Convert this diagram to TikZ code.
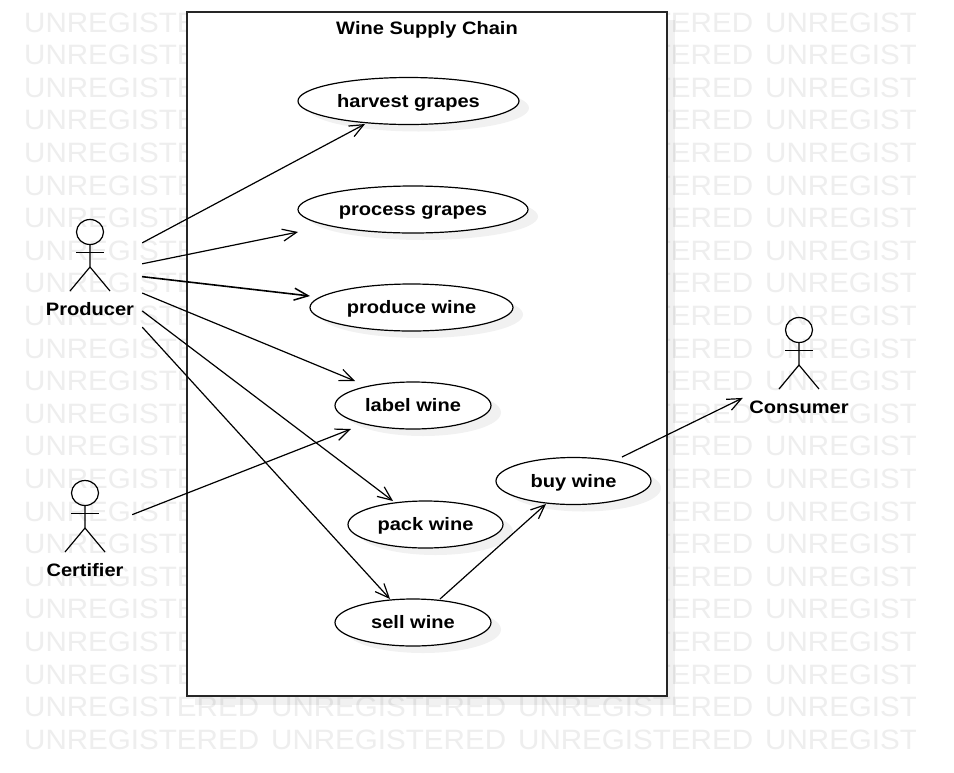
\documentclass[tikz,border=0pt]{standalone}
\usepackage{fontspec}
\setmainfont{Liberation Sans}
\newfontfamily\wmfont[FakeStretch=1.056]{Liberation Sans}
\newfontfamily\lblfont[FakeStretch=1.115]{Liberation Sans}
\usetikzlibrary{shapes.geometric,arrows.meta,calc}
\definecolor{wmgray}{HTML}{EEEEEE}
\tikzset{
  usecase/.style={ellipse,draw=black,fill=white,line width=1.2pt,inner sep=0pt,
    minimum width=#1,minimum height=47pt,text height=13pt,text depth=1pt,
    font=\fontsize{18}{20}\lblfont\bfseries},
  shadowblob/.style={ellipse,fill=black,fill opacity=0.055,draw=none,inner sep=0pt,
    minimum width=#1,minimum height=47pt},
  actorbox/.style={rectangle,draw=none,inner sep=0pt,minimum width=#1},
  actorline/.style={line width=1.2pt,draw=black},
  actorname/.style={inner sep=0pt,font=\fontsize{18}{20}\lblfont\bfseries},
  assoc/.style={line width=1.2pt,-{Straight Barb[length=14pt,width=12pt,line width=1.2pt]}},
  assocheavy/.style={line width=1.6pt,-{Straight Barb[length=14pt,width=12pt,line width=1.5pt]}},
  watermark/.style={anchor=base west,inner sep=0pt,text=wmgray,font=\fontsize{28}{30}\wmfont},
  boundarybox/.style={rectangle,draw=black!85,fill=white,line width=1.3pt,inner sep=0pt},
  titletext/.style={inner sep=0pt,text height=13pt,text depth=1pt,font=\fontsize{18}{20}\lblfont\bfseries}
}
\newcommand{\actorfig}[2]{%
  \draw[actorline] (#1,#2) ellipse [x radius=13.5pt,y radius=12.5pt];
  \draw[actorline] (#1-14,#2+20.5) -- (#1+14,#2+20.5);
  \draw[actorline] (#1,#2+12.5) -- (#1,#2+35) -- (#1-20,#2+59);
  \draw[actorline] (#1,#2+35) -- (#1+20,#2+59);
}
\begin{document}
\begin{tikzpicture}[x=1pt,y=-1pt]
\useasboundingbox (0,0) rectangle (954,772);
\fill[white] (0,0) rectangle (954,772);
% watermark
\begin{scope}
\clip (0,0) rectangle (915,772);
\foreach \r in {0,...,22}
  \foreach \c in {0,...,3}
    \node[watermark,name=wm\r-\c] at ({24+247*\c},{32+32.6*\r}) {UNREGISTERED};
\end{scope}
% boundary
\fill[black,fill opacity=0.055] (195,20) rectangle (675,705);
\node[boundarybox,minimum width=480pt,minimum height=684pt] (boundary) at (427,354) {};
\node[titletext] (title) at (427,28) {Wine Supply Chain};
% shadows
\node[shadowblob=221pt] (s1) at (418.5,108) {};
\node[shadowblob=230pt] (s2) at (423,216.5) {};
\node[shadowblob=203pt] (s3) at (421.5,314.5) {};
\node[shadowblob=156pt] (s4) at (423,412.5) {};
\node[shadowblob=155pt] (s5) at (435.5,531.5) {};
\node[shadowblob=156pt] (s6) at (423,629.5) {};
\node[shadowblob=155pt] (s7) at (583.5,488) {};
% use cases
\node[usecase=221pt] (harvest) at (408.5,101) {harvest grapes};
\node[usecase=230pt] (process) at (413,209.5) {process grapes};
\node[usecase=203pt] (produce) at (411.5,307.5) {produce wine};
\node[usecase=156pt] (labelw) at (413,405.5) {label wine};
\node[usecase=155pt] (pack) at (425.5,524.5) {pack wine};
\node[usecase=156pt] (sell) at (413,622.5) {sell wine};
\node[usecase=155pt] (buy) at (573.5,481) {buy wine};
% actors
\node[actorbox=104pt,minimum height=110pt] (producer) at (90,273) {};
\node[actorbox=94pt,minimum height=100pt] (certifier) at (85,530) {};
\node[actorbox=112pt,minimum height=110pt] (consumer) at (799,360) {};
\actorfig{90}{232}
\actorfig{85}{493}
\actorfig{799}{330}
\node[actorname] (producername) at (90,309) {Producer};
\node[actorname] (certifiername) at (85,570) {Certifier};
\node[actorname] (consumername) at (799,407) {Consumer};
% connectors
\draw[assoc] (producer.30) -- ($(harvest.center)+(-43.5,23)$);
\draw[assoc] (producer.10.9) -- ($(process.center)+(-115,22.5)$);
\draw[assocheavy] (producer.-4.4) -- ($(produce.center)+(-101.5,-11.5)$);
\draw[assoc] (producer.-21) -- ($(labelw.center)+(-58,-24.5)$);
\draw[assoc] (producer.-36.2) -- ($(pack.center)+(-32.5,-23.5)$);
\draw[assoc] (producer.-46.6) -- ($(sell.center)+(-23,-23.5)$);
\draw[assoc] (certifier.18.8) -- ($(labelw.center)+(-62,23.5)$);
\draw[assoc] ($(sell.center)+(27,-23.5)$) -- ($(buy.center)+(-27.5,23)$);
\draw[assoc] ($(buy.center)+(48.5,-24)$) -- (consumer.214.2);
\end{tikzpicture}
\end{document}
